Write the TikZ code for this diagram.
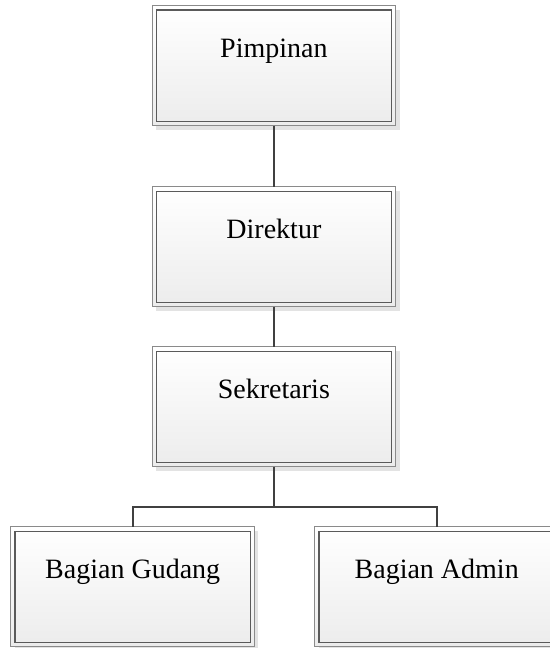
\documentclass[tikz,border=0pt]{standalone}
\usepackage{fontspec}
\setmainfont{Liberation Serif}
\usetikzlibrary{shadows}
\definecolor{outerc}{HTML}{8A8A8A}
\definecolor{innerc}{HTML}{5A5A5A}
\definecolor{linec}{HTML}{404040}
\definecolor{shadec}{HTML}{ECECEC}
\begin{document}
\begin{tikzpicture}[x=1pt,y=-1pt,
 orgbox/.style={rectangle, draw=outerc, line width=1pt, outer sep=0pt,
   minimum width=243.5pt, inner xsep=0pt, inner ysep=0pt,
   text height=52pt, text depth=68pt, anchor=north,
   top color=white, bottom color=shadec,
   font=\fontsize{28}{32}\selectfont,
   drop shadow={shadow xshift=4pt, shadow yshift=-4pt, fill=black!11, opacity=1},
   path picture={\draw[innerc, line width=1.3pt]
     ([shift={(4pt,-4.5pt)}]path picture bounding box.north west) rectangle
     ([shift={(-4pt,4pt)}]path picture bounding box.south east);}},
 link/.style={draw=linec, line width=1.8pt}]
\useasboundingbox (0,0) rectangle (549,648);
\node[orgbox] (pim) at (273.9,5.5) {Pimpinan};
\node[orgbox] (dir) at (273.9,186.7) {Direktur};
\node[orgbox] (sek) at (273.9,346.7) {Sekretaris};
\node[orgbox] (gud) at (132.7,526.7) {Bagian Gudang};
\node[orgbox] (adm) at (436.7,526.7) {Bagian Admin};
\coordinate (bus) at (273.9,507.3);
\draw[link] (pim.south) -- (dir.north);
\draw[link] (dir.south) -- (sek.north);
\draw[link] (sek.south) -- (bus);
\draw[link] (gud.north) |- (bus) -| (adm.north);
\end{tikzpicture}
\end{document}
